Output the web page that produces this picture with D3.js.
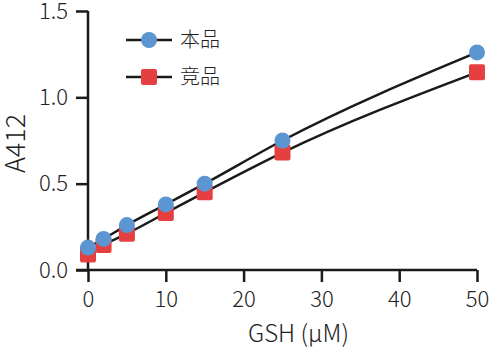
<!DOCTYPE html>
<html><head><meta charset="utf-8">
<script src="https://cdn.jsdelivr.net/npm/d3@7"></script>
<style>
html,body{margin:0;padding:0;background:#fff;}
svg{display:block;}
text{font-family:"Noto Sans CJK SC","Noto Sans",sans-serif;fill:#222;font-weight:300;}
</style></head>
<body>
<svg id="c" width="501" height="357"></svg>
<script>
const xValues = [0, 2, 5, 10, 15, 25, 50];
const seriesNames = ["本品", "竞品"];
const benpin = [0.13, 0.18, 0.26, 0.38, 0.50, 0.75, 1.26];
const jingpin = [0.09, 0.145, 0.21, 0.33, 0.45, 0.68, 1.145];
const xTicks = [0, 10, 20, 30, 40, 50];
const yTicks = [0.0, 0.5, 1.0, 1.5];
const xLabel = "GSH (μM)";
const yLabel = "A412";

const svg = d3.select("#c");
const x = d3.scaleLinear().domain([0, 50]).range([88, 477]);
const y = d3.scaleLinear().domain([0, 1.5]).range([270, 11]);
const ink = "#1a1a1a";

const xa = svg.append("g").attr("transform", "translate(0,270)")
  .call(d3.axisBottom(x).tickValues(xTicks).tickSize(12).tickPadding(9).tickFormat(d3.format("d")));
const ya = svg.append("g").attr("transform", "translate(88,0)")
  .call(d3.axisLeft(y).tickValues(yTicks).tickSize(12).tickPadding(8).tickFormat(d3.format(".1f")));
[xa, ya].forEach(a => {
  a.select(".domain").attr("stroke", ink).attr("stroke-width", 2.5);
  a.selectAll(".tick line").attr("stroke", ink).attr("stroke-width", 2.5);
  a.selectAll(".tick text").style("font-size", "22px").attr("fill", "#222");
});
xa.select(".domain").attr("d", `M${x(0)-12},0H${x(50)}`);
ya.select(".domain").attr("d", `M0,${y(0)}V${y(1.5)}`);

svg.append("text").attr("x", (x(0) + x(50)) / 2 + 16).attr("y", 342)
  .attr("text-anchor", "middle").style("font-size", "24px").text(xLabel);
svg.append("text").attr("transform", `translate(25,${(y(0)+y(1.5))/2 + 3}) rotate(-90)`)
  .attr("text-anchor", "middle").style("font-size", "27px").text(yLabel);

const line = d3.line().x((d, i) => x(xValues[i])).y(d => y(d)).curve(d3.curveMonotoneX);
const colors = ["#5b96d2", "#e5403f"];
[benpin, jingpin].forEach((s, k) => {
  svg.append("path").attr("d", line(s)).attr("fill", "none").attr("stroke", ink).attr("stroke-width", 2.5);
});
svg.selectAll(".sq").data(jingpin).enter().append("rect")
  .attr("x", (d, i) => x(xValues[i]) - 8).attr("y", d => y(d) - 8)
  .attr("width", 16).attr("height", 16).attr("rx", 2).attr("fill", colors[1]);
svg.selectAll(".ci").data(benpin).enter().append("circle")
  .attr("cx", (d, i) => x(xValues[i])).attr("cy", d => y(d)).attr("r", 8).attr("fill", colors[0]);

const lg = svg.append("g");
[0, 1].forEach(k => {
  const yy = 40 + k * 37;
  lg.append("line").attr("x1", 126).attr("x2", 172).attr("y1", yy).attr("y2", yy)
    .attr("stroke", ink).attr("stroke-width", 2.5);
  if (k === 0) lg.append("circle").attr("cx", 149).attr("cy", yy).attr("r", 8).attr("fill", colors[0]);
  else lg.append("rect").attr("x", 141).attr("y", yy - 8).attr("width", 16).attr("height", 16).attr("rx", 2).attr("fill", colors[1]);
  lg.append("text").attr("x", 180).attr("y", yy + 7).style("font-size", "20px").text(seriesNames[k]);
});
</script>
</body></html>
